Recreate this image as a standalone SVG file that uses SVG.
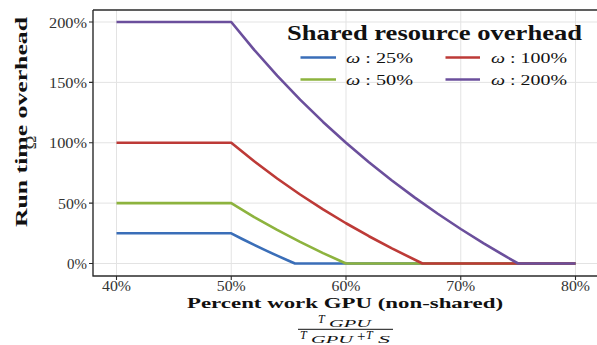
<svg xmlns="http://www.w3.org/2000/svg" width="597" height="345" viewBox="0 0 597 345">
<style>
.grid{stroke:#e3e3e3;stroke-width:1;fill:none}
.axis{stroke:#2b2b2b;stroke-width:1.4;fill:none}
.tick{stroke:#2b2b2b;stroke-width:1.1}
.tl{font-family:"Liberation Serif","DejaVu Serif",serif;font-size:14px;fill:#333}
.bt{font-family:"Liberation Serif","DejaVu Serif",serif;font-weight:bold;fill:#111}
.lg{font-family:"Liberation Serif","DejaVu Serif",serif;font-size:15px;fill:#111}
.it{font-family:"Liberation Serif","DejaVu Serif",serif;font-style:italic;fill:#111}
.s{fill:none;stroke-width:2.6;stroke-linejoin:round}
.b{stroke:#3a6eb8}
.g{stroke:#8db33e}
.r{stroke:#bd3a37}
.p{stroke:#6b4f9c}
</style>
<rect width="597" height="345" fill="#fff"/>
<g id="grid">
<path class="grid" d="M116.5,10V276M231.25,10V276M346,10V276M460.75,10V276M575.5,10V276"/>
<path class="grid" d="M93,22H597M93,82.4H597M93,142.75H597M93,203.1H597M93,263.5H597"/>
</g>
<g id="axes">
<path class="axis" d="M93,10V276.5M93,10H597M92.5,276H597"/>
<path class="tick" d="M89,22H93M89,82.4H93M89,142.75H93M89,203.1H93M89,263.5H93"/>
<path class="tick" d="M116.5,276V280M231.25,276V280M346,276V280M460.75,276V280M575.5,276V280"/>
<g class="tl" text-anchor="end">
<text x="87" y="27.5" textLength="38" lengthAdjust="spacingAndGlyphs">200%</text>
<text x="87" y="88" textLength="38" lengthAdjust="spacingAndGlyphs">150%</text>
<text x="87" y="148.3" textLength="38" lengthAdjust="spacingAndGlyphs">100%</text>
<text x="87" y="208.6" textLength="29" lengthAdjust="spacingAndGlyphs">50%</text>
<text x="87" y="269" textLength="20" lengthAdjust="spacingAndGlyphs">0%</text>
</g>
<g class="tl" text-anchor="middle">
<text x="116.5" y="290.5" textLength="29" lengthAdjust="spacingAndGlyphs">40%</text>
<text x="231.25" y="290.5" textLength="29" lengthAdjust="spacingAndGlyphs">50%</text>
<text x="346" y="290.5" textLength="29" lengthAdjust="spacingAndGlyphs">60%</text>
<text x="460.75" y="290.5" textLength="29" lengthAdjust="spacingAndGlyphs">70%</text>
<text x="575.5" y="290.5" textLength="29" lengthAdjust="spacingAndGlyphs">80%</text>
</g>
</g>
<g id="titles">
<text class="bt" x="345" y="308" font-size="15" text-anchor="middle" textLength="316" lengthAdjust="spacingAndGlyphs">Percent work GPU (non-shared)</text>
<text class="bt" transform="translate(27,122) rotate(-90)" font-size="16" text-anchor="middle" textLength="210" lengthAdjust="spacingAndGlyphs">Run time overhead</text>
<text class="tl" transform="translate(35.5,142.5) rotate(-90)" font-size="10" text-anchor="middle" fill="#111" textLength="14" lengthAdjust="spacingAndGlyphs">Ω</text>
</g>
<g id="fraction">
<text class="it" x="318" y="322.5" font-size="12">T</text>
<text class="it" x="329" y="326.5" font-size="10" textLength="42" lengthAdjust="spacingAndGlyphs">GPU</text>
<path d="M298,329.3H393" stroke="#111" stroke-width="1"/>
<text class="it" x="300" y="339" font-size="12">T</text>
<text class="it" x="311" y="343" font-size="10" textLength="42" lengthAdjust="spacingAndGlyphs">GPU</text>
<text class="lg" x="357" y="341" font-size="11">+</text>
<text class="it" x="366" y="339" font-size="12">T</text>
<text class="it" x="378" y="343" font-size="10" textLength="12" lengthAdjust="spacingAndGlyphs">S</text>
</g>
<g id="series">
<polyline id="w25" class="s b" points="116.5,233.31 231.25,233.31 242.73,239.23 254.2,244.92 265.68,250.4 277.15,255.67 288.63,260.76 295,263.5 575.5,263.5"/>
<polyline id="w50" class="s g" points="116.5,203.13 231.25,203.13 254.2,217.06 277.15,229.96 300.1,241.94 323.05,253.09 346,263.5 575.5,263.5"/>
<polyline id="w100" class="s r" points="116.5,142.75 231.25,142.75 254.2,161.33 277.15,178.53 300.1,194.5 323.05,209.37 346,223.25 368.95,236.23 391.9,248.41 422.5,263.5 575.5,263.5"/>
<polyline id="w200" class="s p" points="116.5,22 231.25,22 254.2,49.87 277.15,75.67 300.1,99.63 323.05,121.93 346,142.75 368.95,162.23 391.9,180.48 414.85,197.64 437.8,213.78 460.75,229 483.7,243.37 506.65,256.97 518.13,263.5 575.5,263.5"/>
</g>
<g id="legend">
<text class="bt" x="287" y="40" font-size="21" textLength="295" lengthAdjust="spacingAndGlyphs">Shared resource overhead</text>
<path class="s b" d="M300.5,57.5H336"/>
<path class="s r" d="M445.5,57.5H480"/>
<path class="s g" d="M300.5,79.5H336"/>
<path class="s p" d="M445.5,79.5H480"/>
<text class="lg" x="346" y="63.3" textLength="67" lengthAdjust="spacingAndGlyphs"><tspan font-style="italic">ω</tspan> : 25%</text>
<text class="lg" x="491" y="63.3" textLength="76" lengthAdjust="spacingAndGlyphs"><tspan font-style="italic">ω</tspan> : 100%</text>
<text class="lg" x="346" y="85" textLength="67" lengthAdjust="spacingAndGlyphs"><tspan font-style="italic">ω</tspan> : 50%</text>
<text class="lg" x="491" y="85" textLength="76" lengthAdjust="spacingAndGlyphs"><tspan font-style="italic">ω</tspan> : 200%</text>
</g>
</svg>
